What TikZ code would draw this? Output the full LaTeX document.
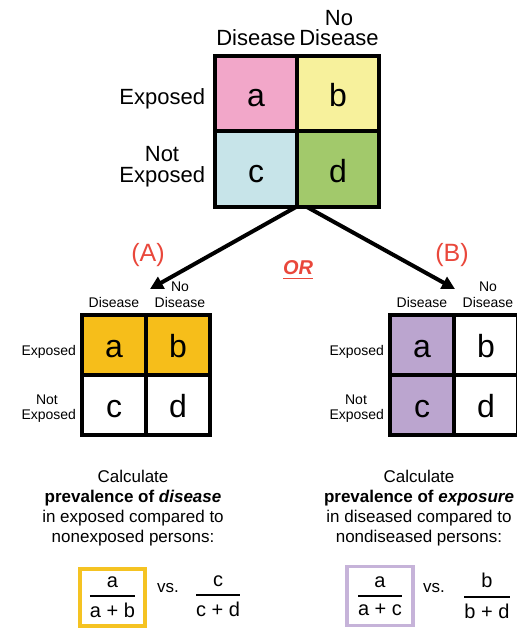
\documentclass[tikz,border=0pt]{standalone}
\usepackage{fontspec}
\setmainfont{Liberation Sans}
\usepackage{amsmath}
\usepackage{xcolor}
\usetikzlibrary{arrows.meta}

\definecolor{pinkcell}{HTML}{F2A7C9}
\definecolor{yellowcell}{HTML}{F7F19C}
\definecolor{bluecell}{HTML}{C7E4E9}
\definecolor{greencell}{HTML}{A2C96B}
\definecolor{ambercell}{HTML}{F6BE1A}
\definecolor{lilaccell}{HTML}{BBA5CF}
\definecolor{redlabel}{HTML}{E9473B}
\definecolor{amberbox}{HTML}{F5C322}
\definecolor{lilacbox}{HTML}{C6B3D9}

\tikzset{
  bigcell/.style={draw, line width=4pt, minimum width=82pt, minimum height=75.5pt, text height=26pt, text depth=0pt, font=\fontsize{32}{32}\selectfont},
  smallcell/.style={draw, line width=4pt, minimum width=64pt, minimum height=60pt, text height=25pt, text depth=0pt, font=\fontsize{32}{32}\selectfont},
  biglabel/.style={anchor=base, font=\fontsize{22}{22}\selectfont},
  smalllabel/.style={anchor=base, font=\fontsize{14}{14}\selectfont},
  fraclabel/.style={font=\fontsize{20}{20}\selectfont},
  notelabel/.style={align=center, font=\fontsize{17}{20}\selectfont},
  arrowline/.style={line width=4pt, -{Triangle[length=13pt, width=13pt]}}
}

\begin{document}
\begin{tikzpicture}[x=1pt, y=-1pt, every node/.style={inner sep=0pt, outer sep=0pt}]
    \useasboundingbox (0,0) rectangle (517,630);

    % Full 2x2 table
    \foreach \nm/\cx/\cy/\col/\txt in {ta/256/93.5/pinkcell/a, tb/338/93.5/yellowcell/b, tc/256/169/bluecell/c, td/338/169/greencell/d} {
        \node[bigcell, fill=\col] (\nm) at (\cx,\cy) {\txt};
    }
    \node[biglabel] (thdis) at (256,45) {Disease};
    \node[biglabel] (thno) at (339,25) {No};
    \node[biglabel] (thnodis) at (339,45) {Disease};
    \node[biglabel, anchor=base east] (trexp) at (205,104) {Exposed};
    \node[biglabel] (trnot) at (162,161) {Not};
    \node[biglabel, anchor=base east] (trnotexp) at (205,182) {Exposed};

    % Two ways to read it
    \coordinate (forkA) at (296,207);
    \coordinate (forkB) at (307,207);
    \coordinate (tipA) at (150,289);
    \coordinate (tipB) at (455,289);
    \draw[arrowline] (forkA) -- (tipA);
    \draw[arrowline] (forkB) -- (tipB);
    \node[font=\fontsize{25}{25}\selectfont, text=redlabel] (labA) at (148,255) {(A)};
    \node[font=\fontsize{25}{25}\selectfont, text=redlabel] (labB) at (452,255) {(B)};
    \node[font=\fontsize{20}{20}\selectfont\bfseries\itshape, text=redlabel] (orlab) at (298,270) {\underline{OR}};

    % (A) table
    \foreach \nm/\cx/\cy/\col/\txt in {aa/114/345/ambercell/a, ab/178/345/ambercell/b, ac/114/405/white/c, ad/178/405/white/d} {
        \node[smallcell, fill=\col] (\nm) at (\cx,\cy) {\txt};
    }
    \node[smalllabel] (ahdis) at (114,307) {Disease};
    \node[smalllabel] (ahno) at (180,291) {No};
    \node[smalllabel] (ahnodis) at (180,307) {Disease};
    \node[smalllabel, anchor=base east] (arexp) at (76,355) {Exposed};
    \node[smalllabel] (arnot) at (47,404) {Not};
    \node[smalllabel, anchor=base east] (arnotexp) at (76,419) {Exposed};

    % (B) table
    \foreach \nm/\cx/\cy/\col/\txt in {ba/422/345/lilaccell/a, bb/486/345/white/b, bc/422/405/lilaccell/c, bd/486/405/white/d} {
        \node[smallcell, fill=\col] (\nm) at (\cx,\cy) {\txt};
    }
    \node[smalllabel] (bhdis) at (422,307) {Disease};
    \node[smalllabel] (bhno) at (488,291) {No};
    \node[smalllabel] (bhnodis) at (488,307) {Disease};
    \node[smalllabel, anchor=base east] (brexp) at (384,355) {Exposed};
    \node[smalllabel] (brnot) at (356,404) {Not};
    \node[smalllabel, anchor=base east] (brnotexp) at (384,419) {Exposed};

    % Notes
    \node[notelabel] (anote) at (133,508) {Calculate\\ \textbf{prevalence of \textit{disease}}\\ in exposed compared to\\ nonexposed persons:};
    \node[notelabel] (bnote) at (419,508) {Calculate\\ \textbf{prevalence of \textit{exposure}}\\ in diseased compared to\\ nondiseased persons:};

    % Ratios
    \node[fraclabel, draw=amberbox, line width=3.5pt, minimum width=65pt, minimum height=57pt] (afrac) at (112.5,597.5) {$\genfrac{}{}{2pt}{0}{\text{a}}{\text{a + b}}$};
    \node[font=\fontsize{17}{17}\selectfont] (avs) at (168,588) {vs.};
    \node[fraclabel] (afrac2) at (218,596) {$\genfrac{}{}{2pt}{0}{\text{c}}{\text{c + d}}$};
    \node[fraclabel, draw=lilacbox, line width=3.5pt, minimum width=66pt, minimum height=59pt] (bfrac) at (380,596) {$\genfrac{}{}{2pt}{0}{\text{a}}{\text{a + c}}$};
    \node[font=\fontsize{17}{17}\selectfont] (bvs) at (434,588) {vs.};
    \node[fraclabel] (bfrac2) at (487,596) {$\genfrac{}{}{2pt}{0}{\text{b}}{\text{b + d}}$};
\end{tikzpicture}
\end{document}
